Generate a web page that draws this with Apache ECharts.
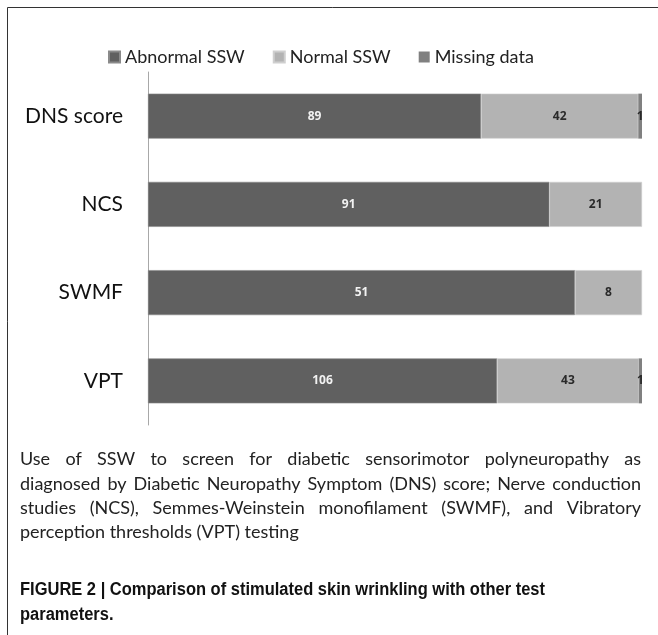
<!DOCTYPE html>
<html><head><meta charset="utf-8">
<script src="https://cdn.jsdelivr.net/npm/echarts@6/dist/echarts.min.js"></script>
<style>html,body{margin:0;padding:0;background:#fff;}#c{width:658px;height:635px;}</style>
</head><body><div id="c"></div>
<script>
const categories = ['DNS score', 'NCS', 'SWMF', 'VPT'];
const abnormal = [89, 91, 51, 106];
const normal = [42, 21, 8, 43];
const missing = [1, 0, 0, 1];
const seriesNames = ['Abnormal SSW', 'Normal SSW', 'Missing data'];
const captionLines = [
  'Use of SSW to screen for diabetic sensorimotor polyneuropathy as',
  'diagnosed by Diabetic Neuropathy Symptom (DNS) score; Nerve conduction',
  'studies (NCS), Semmes-Weinstein monofilament (SWMF), and Vibratory',
  'perception thresholds (VPT) testing'
];
const figureLines = [
  'FIGURE 2 | Comparison of stimulated skin wrinkling with other test',
  'parameters.'
];

const totals = categories.map((c, i) => abnormal[i] + normal[i] + missing[i]);
const pct = arr => arr.map((v, i) => ({ value: v / totals[i] * 100, count: v }));
const colors = ['#606060', '#b3b3b3', '#808080'];

const mctx = document.createElement('canvas').getContext('2d');
function measure(t, font) { mctx.font = font; return mctx.measureText(t).width; }

const graphics = [];
// frame
graphics.push({ type: 'line', shape: { x1: 7.5, y1: 7.5, x2: 658, y2: 7.5 }, style: { stroke: '#333', lineWidth: 1 } });
graphics.push({ type: 'line', shape: { x1: 7.5, y1: 7.5, x2: 7.5, y2: 635 }, style: { stroke: '#333', lineWidth: 1 } });

// caption (justified)
const capFamily = 'Lato';
const capSize = 18;
const capFont = capSize + 'px ' + capFamily;
const capLeft = 20, capRight = 641;
const capW = capRight - capLeft;
const natural2 = measure(captionLines[1], capFont);
const capSx = Math.min(1, (capW - 2) / natural2);
const capY = [459, 484, 508, 532];
captionLines.forEach((line, li) => {
  const words = line.split(' ');
  const widths = words.map(w => measure(w, capFont) * capSx);
  const sumW = widths.reduce((a, b) => a + b, 0);
  const justify = li < captionLines.length - 1;
  const gap = justify ? (capW - sumW) / (words.length - 1) : measure(' ', capFont) * capSx;
  let x = capLeft;
  words.forEach((w, wi) => {
    graphics.push({
      type: 'text', x: x, y: capY[li], scaleX: capSx,
      style: { text: w, font: capFont, fill: '#222', textVerticalAlign: 'middle', verticalAlign: 'middle' }
    });
    x += widths[wi] + gap;
  });
});
// figure title
const figFont = 'bold 18px "Liberation Sans"';
const figSx = 525 / measure(figureLines[0], figFont);
const figY = [590, 615];
figureLines.forEach((line, li) => {
  graphics.push({
    type: 'text', x: 20, y: figY[li], scaleX: figSx,
    style: { text: line, font: figFont, fill: '#111', verticalAlign: 'middle', textVerticalAlign: 'middle' }
  });
});

const labelFor = (dark) => ({
  show: true, position: 'inside',
  fontSize: 12, fontWeight: 'bold', fontFamily: 'Open Sans',
  color: dark ? '#f2f2f2' : '#2a2a2a',
  formatter: p => (p.data.count ? String(p.data.count) : '')
});

const chart = echarts.init(document.getElementById('c'), null, { renderer: 'canvas' });
chart.setOption({
  animation: false,
  backgroundColor: '#fff',
  color: colors,
  legend: {
    left: 103, top: 43,
    itemWidth: 11, itemHeight: 11, itemGap: 28,
    icon: 'rect',
    textStyle: { fontSize: 18, fontFamily: 'Lato', color: '#222' },
    data: seriesNames
  },
  grid: { left: 148, right: 16, top: 72, bottom: 210, containLabel: false },
  xAxis: { type: 'value', min: 0, max: 100, show: false },
  yAxis: {
    type: 'category', inverse: true, data: categories,
    axisLine: { show: true, lineStyle: { color: '#a8a8a8', width: 1 } },
    axisTick: { show: false },
    axisLabel: { fontSize: 21, fontFamily: 'Lato', color: '#111', margin: 25 }
  },
  series: [
    { name: seriesNames[0], type: 'bar', stack: 's', barWidth: 45, data: pct(abnormal), label: labelFor(true),
      itemStyle: { color: colors[0], borderColor: '#8a8a8a', borderWidth: 0.6 } },
    { name: seriesNames[1], type: 'bar', stack: 's', barWidth: 45, data: pct(normal), label: labelFor(false),
      itemStyle: { color: colors[1], borderColor: '#cfcfcf', borderWidth: 0.6 } },
    { name: seriesNames[2], type: 'bar', stack: 's', barWidth: 45, data: pct(missing), label: labelFor(false),
      itemStyle: { color: colors[2] } }
  ],
  graphic: graphics
});
</script></body></html>
